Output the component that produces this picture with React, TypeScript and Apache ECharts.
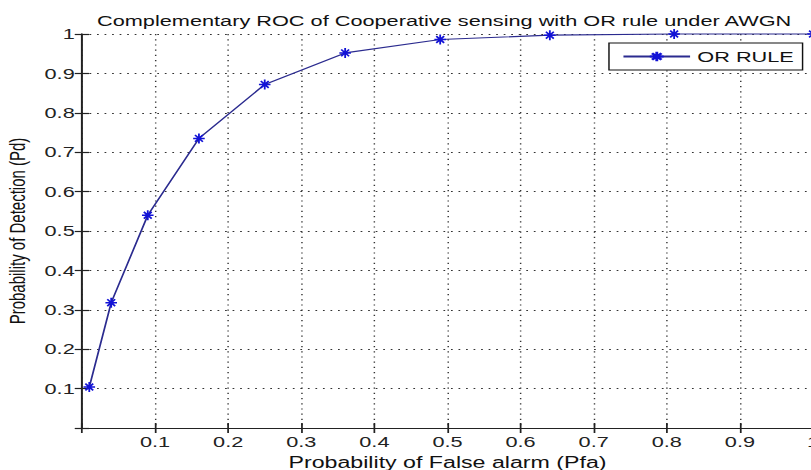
import React, { useEffect, useRef } from 'react';
import * as echarts from 'echarts';

// The reference is a MATLAB figure that was stretched horizontally.
const INNER_W = 560;
const INNER_H = 470;
const STRETCH = 811 / INNER_W;

const titleText = 'Complementary ROC of Cooperative sensing with OR rule under AWGN';
const xName = 'Probability of False alarm (Pfa)';
const yName = 'Probability of Detection (Pd)';
const seriesName = 'OR RULE';

const pfa = [0.01, 0.04, 0.09, 0.16, 0.25, 0.36, 0.49, 0.64, 0.81, 1.0];
const pdOr = [0.104, 0.318, 0.54, 0.735, 0.872, 0.952, 0.986, 0.997, 1.0, 1.0];

const axisMin = 0;
const axisMax = 1;
const tickStep = 0.1;

const FONT = "'Liberation Sans', Arial, sans-serif";
const STAR = 'path://M5,0L5,10M0,5L10,5M1.6,1.6L8.4,8.4M1.6,8.4L8.4,1.6';

const fmt = (v: number) => (Math.abs(v) < 1e-9 ? '' : String(Number(v.toFixed(1))));

export default function App() {
  const ref = useRef<HTMLDivElement>(null);
  useEffect(() => {
    if (!ref.current) return;
    const chart = echarts.init(ref.current, null, { renderer: 'svg' });
    const axisLineStyle = { color: '#222', width: 1.2 };
    const gridLine = { show: true, lineStyle: { color: '#333', width: 1, type: [1.2, 4] as any } };
    const baseAxis = {
      type: 'value' as const,
      min: axisMin,
      max: axisMax,
      interval: tickStep,
      axisLine: { show: true, lineStyle: axisLineStyle },
      axisTick: { show: true, inside: true, length: 5, lineStyle: axisLineStyle },
    };
    chart.setOption({
      animation: false,
      backgroundColor: '#ffffff',
      title: {
        text: titleText,
        left: 67,
        top: 13,
        padding: 0,
        textStyle: { fontFamily: FONT, fontSize: 15, fontWeight: 'normal', color: '#111' },
      },
      legend: {
        data: [seriesName],
        left: 420.5,
        top: 43,
        padding: [6, 6, 6, 9],
        itemWidth: 46,
        itemHeight: 12,
        borderColor: '#111',
        borderWidth: 1,
        borderRadius: 0,
        backgroundColor: '#fff',
        textStyle: { fontFamily: FONT, fontSize: 15, color: '#111' },
      },
      grid: {
        left: 56.6,
        top: 34,
        width: 504.8,
        height: 394,
        outerBoundsMode: 'none',
      } as any,
      xAxis: [
        {
          ...baseAxis,
          position: 'bottom',
          name: xName,
          nameLocation: 'middle',
          nameGap: 20,
          nameTextStyle: { fontFamily: FONT, fontSize: 16, color: '#111' },
          axisLabel: { show: true, margin: 6, formatter: fmt, fontFamily: FONT, fontSize: 15, color: '#222' },
          splitLine: gridLine,
        },
        {
          ...baseAxis,
          position: 'top',
          axisLabel: { show: false },
          splitLine: { show: false },
        },
      ],
      yAxis: [
        {
          ...baseAxis,
          position: 'left',
          name: yName,
          nameLocation: 'middle',
          nameGap: 37,
          nameTextStyle: { fontFamily: FONT, fontSize: 15, color: '#111' },
          axisLabel: { show: true, margin: 5, formatter: fmt, fontFamily: FONT, fontSize: 15, color: '#222' },
          splitLine: gridLine,
        },
        {
          ...baseAxis,
          position: 'right',
          axisLabel: { show: false },
          splitLine: { show: false },
        },
      ],
      series: [
        {
          name: seriesName,
          type: 'line',
          xAxisIndex: 0,
          yAxisIndex: 0,
          data: pfa.map((x, i) => [x, pdOr[i]]),
          clip: false,
          symbol: STAR,
          symbolSize: [8, 10],
          showSymbol: true,
          lineStyle: { color: '#2b2b8f', width: 1.2 },
          itemStyle: { color: '#1212d6', borderColor: '#1212d6', borderWidth: 1.4 },
          emphasis: { disabled: true },
          z: 5,
        },
      ],
    });
    return () => chart.dispose();
  }, []);
  return (
    <div
      ref={ref}
      style={{
        position: 'fixed',
        left: 0,
        top: 0,
        width: INNER_W,
        height: INNER_H,
        transform: `scaleX(${STRETCH})`,
        transformOrigin: '0 0',
        background: '#fff',
      }}
    />
  );
}
